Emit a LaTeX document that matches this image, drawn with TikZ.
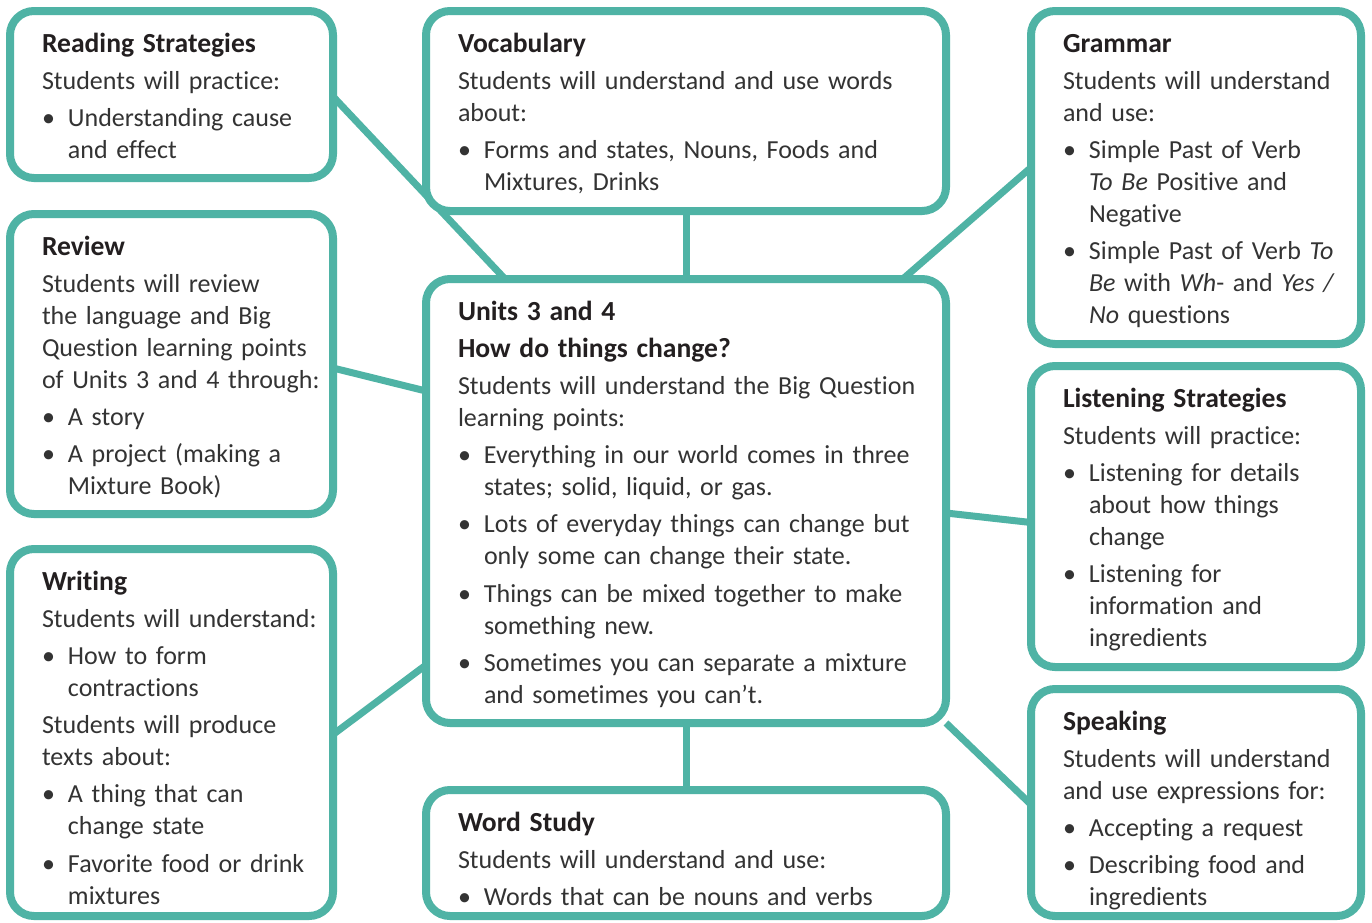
\documentclass[tikz,border=0pt]{standalone}
\usepackage{fontspec}
\setmainfont{Carlito}[Ligatures=NoCommon]
\usetikzlibrary{calc,fit}
\definecolor{teal1}{HTML}{4FB3A5}
\definecolor{txtc}{HTML}{333333}
\definecolor{headc}{HTML}{231F20}
\newcommand\pp{\par\vspace{2.6pt}\noindent}
\newcommand\bi{\par\vspace{2.6pt}\noindent\hangindent=13pt\hangafter=1\makebox[13pt][l]{•}}
\newcommand\hd[1]{\strut{\color{headc}\fontsize{13.8}{16}\selectfont\bfseries #1}}
\pgfdeclarelayer{bg}
\pgfsetlayers{bg,main}
\begin{document}
\begin{tikzpicture}[x=0.5pt,y=-0.5pt,
  box/.style={draw=teal1, line width=4pt, rounded corners=12pt, fill=white, inner sep=0pt, outer sep=0pt, rectangle},
  link/.style={draw=teal1, line width=3.5pt},
  txt/.style={anchor=north west, inner sep=0pt, outer sep=0pt, text=txtc, font=\fontsize{13}{16}\selectfont, execute at begin node={\raggedright}}]
\useasboundingbox (0,0) rectangle (1372,922);
% boxes
\node[box, fit={(10,11) (333,178)}] (rs) {};
\node[box, fit={(10,214) (333,514)}] (rv) {};
\node[box, fit={(10,549) (333,916)}] (wr) {};
\node[box, fit={(426,11) (946,211)}] (vo) {};
\node[box, fit={(426,279) (946,723)}] (ce) {};
\node[box, fit={(426,790) (946,916)}] (ws) {};
\node[box, fit={(1031,11) (1361,344)}] (gr) {};
\node[box, fit={(1031,366) (1361,667)}] (li) {};
\node[box, fit={(1031,689) (1361,916)}] (sp) {};
% connectors
\begin{pgfonlayer}{bg}
\fill[white] (0,0) rectangle (1372,922);
\draw[link] ($(rs.east)+(0,2)$) -- ($(ce.north west)!0.152!(ce.north east)$);
\draw[link] (vo.south) -- (ce.north);
\draw[link] ($(gr.west)+(0,-10)$) -- ($(ce.north west)!0.917!(ce.north east)$);
\draw[link] ($(rv.east)+(0,4)$) -- ($(ce.west)+(0,-110)$);
\draw[link] ($(ce.east)+(0,12)$) -- ($(li.west)+(0,6)$);
\draw[link] ($(wr.east)+(0,2)$) -- ($(ce.west)+(0,164)$);
\draw[link] (ce.south) -- (ws.north);
\draw[link] (ce.south east) -- ($(sp.west)+(0,2)$);
\end{pgfonlayer}
% texts
\node[txt, text width=150pt] (trs) at ($(rs.north west)+(32,18.6)$) {\hd{Reading Strategies}\pp Students will practice:\bi Understanding cause\newline and effect\par};
\node[txt, text width=150pt] (trv) at ($(rv.north west)+(32,18.6)$) {\hd{Review}\pp Students will review\newline the language and Big\newline Question learning points\newline of Units 3 and 4 through:\bi A story\bi A project (making a\newline Mixture Book)\par};
\node[txt, text width=150pt] (twr) at ($(wr.north west)+(32,18.6)$) {\hd{Writing}\pp Students will understand:\bi How to form\newline contractions\pp Students will produce\newline texts about:\bi A thing that can\newline change state\bi Favorite food or drink\newline mixtures\par};
\node[txt, text width=245pt] (tvo) at ($(vo.north west)+(32,18.6)$) {\hd{Vocabulary}\pp Students will understand and use words\newline about:\bi Forms and states, Nouns, Foods and\newline Mixtures, Drinks\par};
\node[txt, text width=245pt] (tce) at ($(ce.north west)+(32,18.6)$) {\hd{Units 3 and 4}\pp\hd{How do things change?}\pp Students will understand the Big Question\newline learning points:\bi Everything in our world comes in three\newline states; solid, liquid, or gas.\bi Lots of everyday things can change but\newline only some can change their state.\bi Things can be mixed together to make\newline something new.\bi Sometimes you can separate a mixture\newline and sometimes you can’t.\par};
\node[txt, text width=245pt] (tws) at ($(ws.north west)+(32,18.6)$) {\hd{Word Study}\pp Students will understand and use:\bi Words that can be nouns and verbs\par};
\node[txt, text width=150pt] (tgr) at ($(gr.north west)+(32,18.6)$) {\hd{Grammar}\pp Students will understand\newline and use:\bi Simple Past of Verb\newline \textit{To Be} Positive and\newline Negative\bi Simple Past of Verb \textit{To}\newline \textit{Be} with \textit{Wh}- and \textit{Yes /}\newline \textit{No} questions\par};
\node[txt, text width=150pt] (tli) at ($(li.north west)+(32,18.6)$) {\hd{Listening Strategies}\pp Students will practice:\bi Listening for details\newline about how things\newline change\bi Listening for\newline information and\newline ingredients\par};
\node[txt, text width=150pt] (tsp) at ($(sp.north west)+(32,18.6)$) {\hd{Speaking}\pp Students will understand\newline and use expressions for:\bi Accepting a request\bi Describing food and\newline ingredients\par};
\end{tikzpicture}
\end{document}
